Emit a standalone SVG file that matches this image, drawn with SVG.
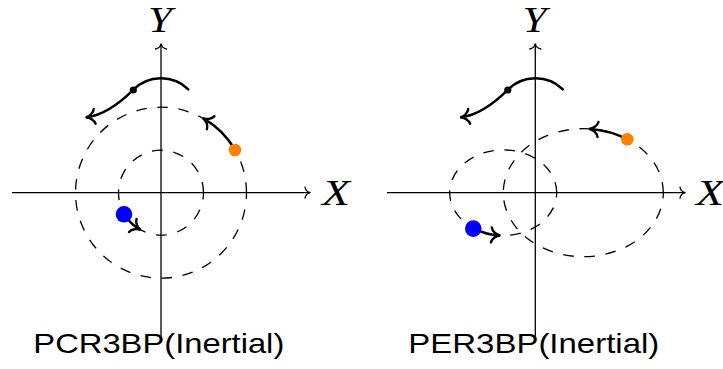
<svg xmlns="http://www.w3.org/2000/svg" width="723" height="369" viewBox="0 0 723 369">
  <style>
    .axis { fill: none; stroke: #000; stroke-width: 1.3; marker-end: url(#axh); }
    .orbit { fill: none; stroke: #000; stroke-width: 1.3; }
    .move { fill: none; stroke: #000; stroke-width: 2.5; stroke-linecap: round; marker-end: url(#mvh); }
    .lab { font-family: "Liberation Serif", "Times New Roman", serif; font-style: italic; font-size: 35.5px; fill: #000; }
    .title { font-family: "Liberation Sans", Arial, sans-serif; font-size: 28.5px; fill: #000; }
    .orange { fill: #ff8000; }
    .blue { fill: #0000ff; }
    .black { fill: #000; }
  </style>
  <defs>
    <marker id="axh" markerUnits="userSpaceOnUse" orient="auto" overflow="visible" markerWidth="12" markerHeight="12" refX="0" refY="0">
      <path d="M -5,-5.5 C -4.5,-2.7 -2,-0.4 0.5,0 C -2,0.4 -4.5,2.7 -5,5.5" fill="none" stroke="#000" stroke-width="1.3" stroke-linecap="round"/>
    </marker>
    <marker id="mvh" markerUnits="userSpaceOnUse" orient="auto" overflow="visible" markerWidth="20" markerHeight="20" refX="0" refY="0">
      <path d="M -8,-7.5 C -7.2,-3.5 -3,-0.6 0.8,0 C -3,0.6 -7.2,3.5 -8,7.5" fill="none" stroke="#000" stroke-width="2.4" stroke-linecap="round"/>
    </marker>
  </defs>

  <g id="connectors">
    <!-- left panel -->
    <path class="axis" d="M 12 192.7 H 310"/>
    <path class="axis" d="M 161 336.7 V 44"/>
    <path class="orbit" stroke-dasharray="10.6 10.6" d="M 246.5 192.7 A 85.5 85.5 0 0 0 75.5 192.7 A 85.5 85.5 0 0 0 246.5 192.7"/>
    <path class="orbit" stroke-dasharray="10.82 10.82" d="M 203.5 192.7 A 42.5 42.5 0 0 0 118.5 192.7 A 42.5 42.5 0 0 0 203.5 192.7"/>
    <path class="move" d="M 235.05 149.95 A 85.5 85.5 0 0 0 203.75 118.65"/>
    <path class="move" d="M 124.2 213.95 A 42.5 42.5 0 0 0 139.75 229.5"/>
    <path class="move" d="M 188.3 89.3 A 39.4 39.4 0 0 0 133.2 89.9 C 121 102 105 115 86.7 117.3"/>
    <!-- right panel -->
    <path class="axis" d="M 387 192.7 H 685"/>
    <path class="axis" d="M 535.3 336.7 V 44"/>
    <path class="orbit" stroke-dasharray="10.65 10.65" d="M 663.3 192.7 A 80 64 0 0 0 503.3 192.7 A 80 64 0 0 0 663.3 192.7"/>
    <path class="orbit" stroke-dasharray="10.65 10.65" d="M 556.7 192.7 A 53.5 42.8 0 0 0 449.7 192.7 A 53.5 42.8 0 0 0 556.7 192.7"/>
    <path class="move" d="M 627.3 139.3 A 80 64 0 0 0 590 128.9"/>
    <path class="move" d="M 474 228.6 A 53.5 42.8 0 0 0 499.3 235.4"/>
    <path class="move" d="M 562.8 89.3 A 39.4 39.4 0 0 0 507.7 89.9 C 495.5 102 479.5 115 461.2 117.3"/>
  </g>

  <g id="left-orange-body"><circle class="orange" cx="235" cy="150" r="6.3"/></g>
  <g id="left-blue-body"><circle class="blue" cx="124" cy="214.3" r="8.3"/></g>
  <g id="left-small-body"><circle class="black" cx="133.3" cy="90" r="3.6"/></g>

  <g id="right-orange-body"><circle class="orange" cx="627.3" cy="139.3" r="6.3"/></g>
  <g id="right-blue-body"><circle class="blue" cx="473.3" cy="228.6" r="8.3"/></g>
  <g id="right-small-body"><circle class="black" cx="507.8" cy="90" r="3.6"/></g>

  <g id="left-labels">
    <text class="lab" x="148" y="31.5" textLength="24" lengthAdjust="spacingAndGlyphs">Y</text>
    <text class="lab" x="322" y="204.5" textLength="28" lengthAdjust="spacingAndGlyphs">X</text>
    <text class="title" x="33.3" y="353.3" textLength="251" lengthAdjust="spacingAndGlyphs">PCR3BP(Inertial)</text>
  </g>
  <g id="right-labels">
    <text class="lab" x="522.5" y="31.5" textLength="24" lengthAdjust="spacingAndGlyphs">Y</text>
    <text class="lab" x="696" y="204.5" textLength="28" lengthAdjust="spacingAndGlyphs">X</text>
    <text class="title" x="408.3" y="353.3" textLength="251" lengthAdjust="spacingAndGlyphs">PER3BP(Inertial)</text>
  </g>
</svg>
